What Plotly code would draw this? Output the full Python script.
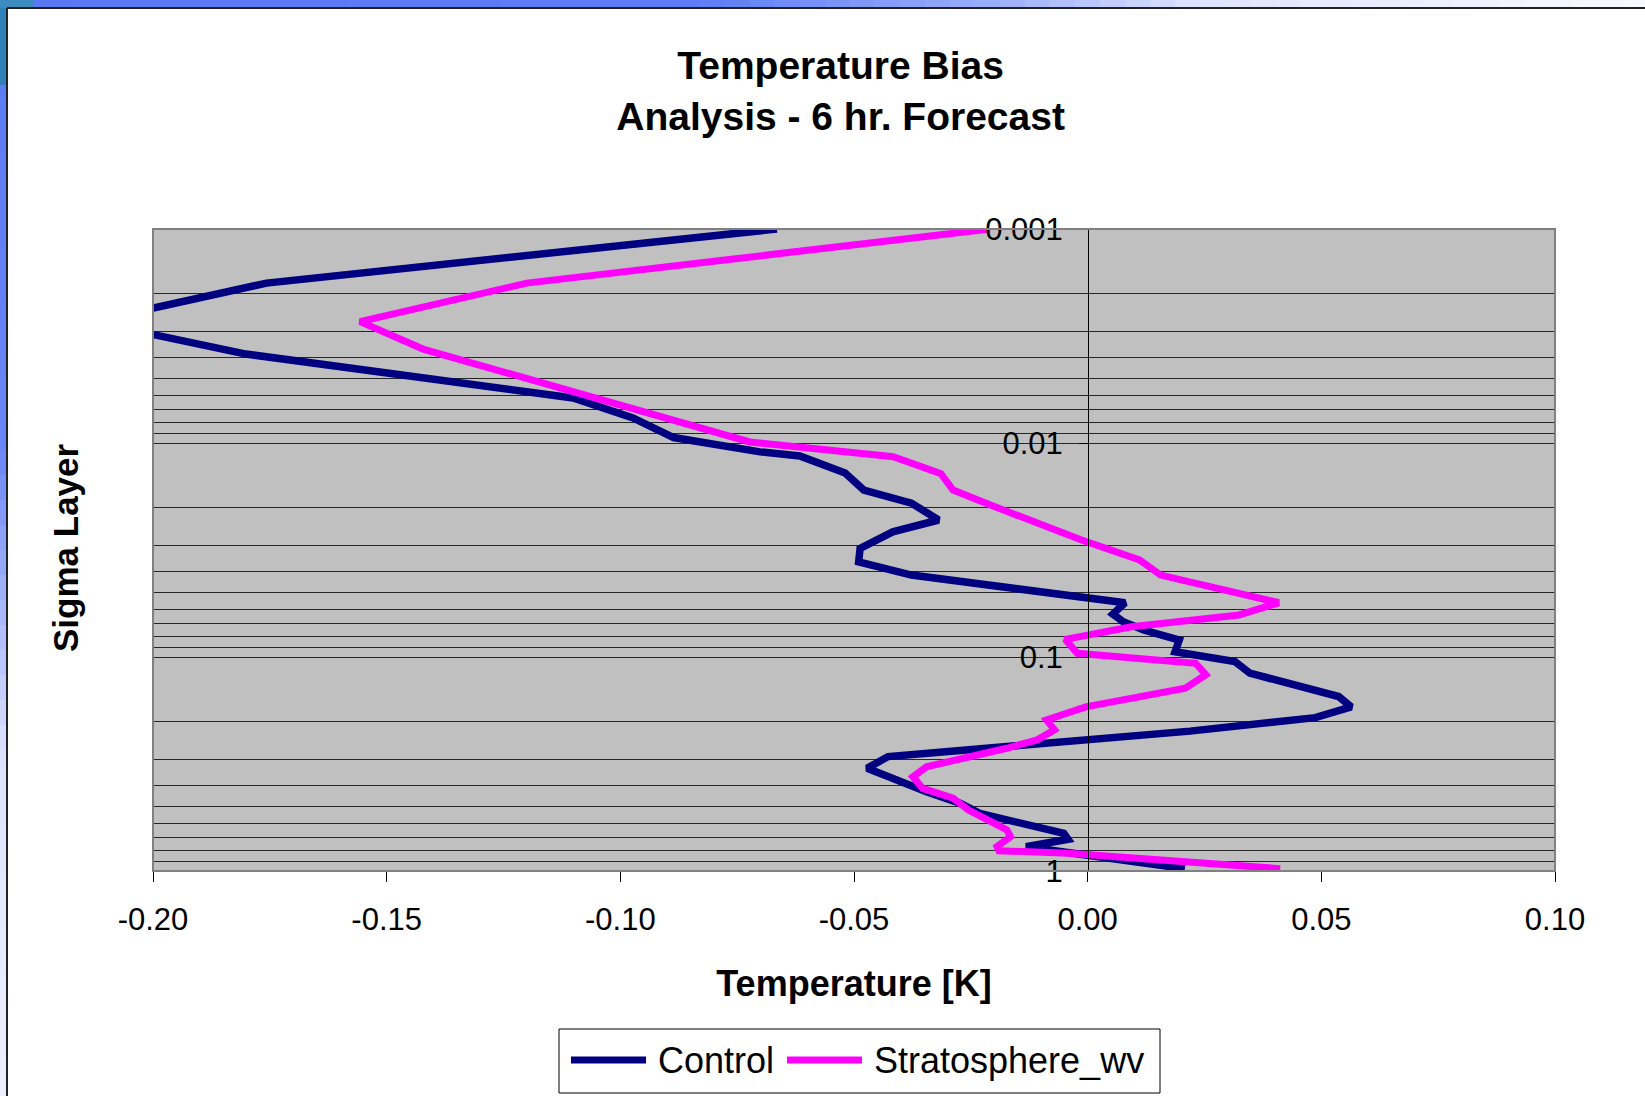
import plotly.graph_objects as go

# ---------------- data ----------------
sigma_control = [0.00100, 0.00179, 0.00271, 0.00384, 0.00616, 0.00764, 0.00943, 0.0110,
                 0.0115, 0.0138, 0.0166, 0.0191, 0.0229, 0.0260, 0.0311, 0.0359, 0.0414,
                 0.0523, 0.0558, 0.0630, 0.0684, 0.0748, 0.0833, 0.0945, 0.105, 0.119,
                 0.153, 0.171, 0.192, 0.222, 0.244, 0.292, 0.331, 0.383, 0.426, 0.483,
                 0.538, 0.667, 0.711, 0.770, 0.975]
temp_control = [-0.0665, -0.1757, -0.2131, -0.1801, -0.1101, -0.0973, -0.0886, -0.0701,
                -0.0616, -0.0519, -0.0479, -0.0377, -0.0319, -0.0417, -0.0487, -0.0490,
                -0.0377, 0.0005, 0.0080, 0.0054, 0.0076, 0.0120, 0.0196, 0.0187, 0.0315,
                0.0347, 0.0537, 0.0564, 0.0487, 0.0219, -0.0001, -0.0427, -0.0472, -0.0403,
                -0.0345, -0.0272, -0.0231, -0.0051, -0.0042, -0.0132, 0.0208]

sigma_strat = [0.00100, 0.00179, 0.00271, 0.00364, 0.00989, 0.0116, 0.0139, 0.0166,
               0.0195, 0.0284, 0.0352, 0.0414, 0.0558, 0.0636, 0.0722, 0.0827, 0.0961,
               0.107, 0.121, 0.140, 0.171, 0.197, 0.219, 0.244, 0.267, 0.326, 0.363,
               0.411, 0.457, 0.519, 0.643, 0.691, 0.770, 0.804, 0.827, 0.975]
temp_strat = [-0.0209, -0.1200, -0.1557, -0.1422, -0.0723, -0.0416, -0.0314, -0.0288,
              -0.0208, -0.0013, 0.0111, 0.0156, 0.0409, 0.0324, 0.0094, -0.0048, -0.0022,
              0.0231, 0.0253, 0.0209, -0.0004, -0.0088, -0.0071, -0.0108, -0.0173, -0.0345,
              -0.0374, -0.0353, -0.0288, -0.0255, -0.0173, -0.0165, -0.0194, -0.0190,
              -0.0042, 0.0412]

series_names = ["Control", "Stratosphere_wv"]
series_colors = ["#000080", "#FF00FF"]

x_ticks = [-0.20, -0.15, -0.10, -0.05, 0.00, 0.05, 0.10]
x_tick_labels = ["-0.20", "-0.15", "-0.10", "-0.05", "0.00", "0.05", "0.10"]
y_major = [0.001, 0.01, 0.1, 1]
y_major_labels = ["0.001", "0.01", "0.1", "1"]
y_minor = [m * d for d in (0.001, 0.01, 0.1) for m in range(2, 10)]

# ---------------- layout geometry ----------------
W, H = 1645, 1096
L, R, T, B = 153, 1555, 229, 871
FONT = "Liberation Sans, Arial, sans-serif"


def px(x):
    return (x - L) / (R - L)


def py(y):
    return (B - y) / (B - T)


def mix(c1, c2, t):
    a = [int(c1[i:i + 2], 16) for i in (1, 3, 5)]
    b = [int(c2[i:i + 2], 16) for i in (1, 3, 5)]
    return "#" + "".join("%02x" % round(a[k] + (b[k] - a[k]) * t) for k in range(3))


def grad(stops, pos):
    for (p0, c0), (p1, c1) in zip(stops, stops[1:]):
        if p0 <= pos <= p1:
            return mix(c0, c1, (pos - p0) / (p1 - p0))
    return stops[-1][1]


fig = go.Figure()
fig.add_trace(go.Scatter(x=temp_control, y=sigma_control, mode="lines", name=series_names[0],
                         line=dict(color=series_colors[0], width=7.5), showlegend=False))
fig.add_trace(go.Scatter(x=temp_strat, y=sigma_strat, mode="lines", name=series_names[1],
                         line=dict(color=series_colors[1], width=7), showlegend=False))

shapes = []
# screenshot frame: blue desktop strips
top_stops = [(0, "#5a78f2"), (700, "#5e7df6"), (1000, "#9cb0fa"), (1200, "#dfe4fe"), (1645, "#f9faff")]
step = 25
for x0 in range(0, W, step):
    shapes.append(dict(type="rect", xref="paper", yref="paper", x0=px(x0), x1=px(x0 + step + 1),
                       y0=py(8), y1=py(0), fillcolor=grad(top_stops, x0 + step / 2),
                       line=dict(width=0), layer="above"))
left_stops = [(0, "#5a78f2"), (450, "#6a86f5"), (750, "#dde2fd"), (1096, "#eeeffe")]
for y0 in range(0, H, step):
    shapes.append(dict(type="rect", xref="paper", yref="paper", x0=px(0), x1=px(7),
                       y0=py(y0 + step + 1), y1=py(y0), fillcolor=grad(left_stops, y0 + step / 2),
                       line=dict(width=0), layer="above"))
# desktop icon hint in the corner
shapes.append(dict(type="rect", xref="paper", yref="paper", x0=px(0), x1=px(7), y0=py(85), y1=py(0),
                   fillcolor="#2f7fb8", line=dict(width=0), layer="above"))
shapes.append(dict(type="rect", xref="paper", yref="paper", x0=px(0), x1=px(34), y0=py(8), y1=py(0),
                   fillcolor="#3d8cc0", line=dict(width=0), layer="above"))
shapes.append(dict(type="line", xref="paper", yref="paper", x0=px(7), x1=px(7), y0=py(H), y1=py(8),
                   line=dict(color="#222222", width=2), layer="above"))
shapes.append(dict(type="line", xref="paper", yref="paper", x0=px(7), x1=px(W), y0=py(8), y1=py(8),
                   line=dict(color="#222222", width=2), layer="above"))
# plot area border
shapes.append(dict(type="rect", xref="paper", yref="paper", x0=0, x1=1, y0=0, y1=1,
                   line=dict(color="#808080", width=2), layer="above"))

# legend box (drawn like the original spreadsheet legend)
LEG_Y = 1060
shapes.append(dict(type="rect", xref="paper", yref="paper", x0=px(559), x1=px(1160),
                   y0=py(1093), y1=py(1029), fillcolor="white",
                   line=dict(color="black", width=1), layer="above"))
legend_items = [(571, 646, 656), (787, 862, 872)]
annotations = []
for (lx0, lx1, tx), name, color in zip(legend_items, series_names, series_colors):
    shapes.append(dict(type="line", xref="paper", yref="paper", x0=px(lx0), x1=px(lx1),
                       y0=py(LEG_Y), y1=py(LEG_Y), line=dict(color=color, width=7), layer="above"))
    annotations.append(dict(text=name, xref="paper", yref="paper", x=px(tx), y=py(LEG_Y),
                            xanchor="left", yanchor="middle", showarrow=False,
                            font=dict(size=36, family=FONT, color="black")))

annotations.append(dict(text="<b>Sigma Layer</b>", xref="paper", yref="paper",
                        x=px(65), y=py(548), xanchor="center", yanchor="middle",
                        textangle=-90, showarrow=False,
                        font=dict(size=35, family=FONT, color="black")))

fig.update_layout(
    width=W, height=H, autosize=False,
    margin=dict(l=L, r=W - R, t=T, b=H - B, pad=0),
    paper_bgcolor="white", plot_bgcolor="#C0C0C0",
    font=dict(family=FONT, color="black"),
    title=dict(text="<b>Temperature Bias<br>Analysis - 6 hr. Forecast</b>",
               x=0.511, xref="container", xanchor="center",
               y=1 - 79 / H, yref="container", yanchor="top",
               font=dict(size=39, family=FONT, color="black")),
    xaxis=dict(range=[-0.2, 0.1], tickvals=x_ticks, ticktext=x_tick_labels,
               showgrid=False, zeroline=False, showline=False,
               ticks="outside", ticklen=10, tickwidth=1, tickcolor="black",
               tickfont=dict(size=31, family=FONT, color="black"),
               ticklabelstandoff=11,
               title=dict(text="<b>Temperature [K]</b>", standoff=34,
                          font=dict(size=36, family=FONT, color="black"))),
    yaxis=dict(type="log", range=[0, -3], anchor="free", position=px(1088),
               tickvals=y_major, ticktext=y_major_labels,
               showgrid=True, gridcolor="#262626", gridwidth=1.2,
               minor=dict(tickvals=y_minor, showgrid=True, gridcolor="#262626", gridwidth=1.2, ticks=""),
               zeroline=False, showline=True, linecolor="black", linewidth=1,
               ticks="outside", ticklen=9, tickwidth=1, tickcolor="black",
               tickfont=dict(size=31, family=FONT, color="black"),
               ticklabelstandoff=10),
    showlegend=False,
    shapes=shapes,
    annotations=annotations,
)

fig.write_html("out.html")
